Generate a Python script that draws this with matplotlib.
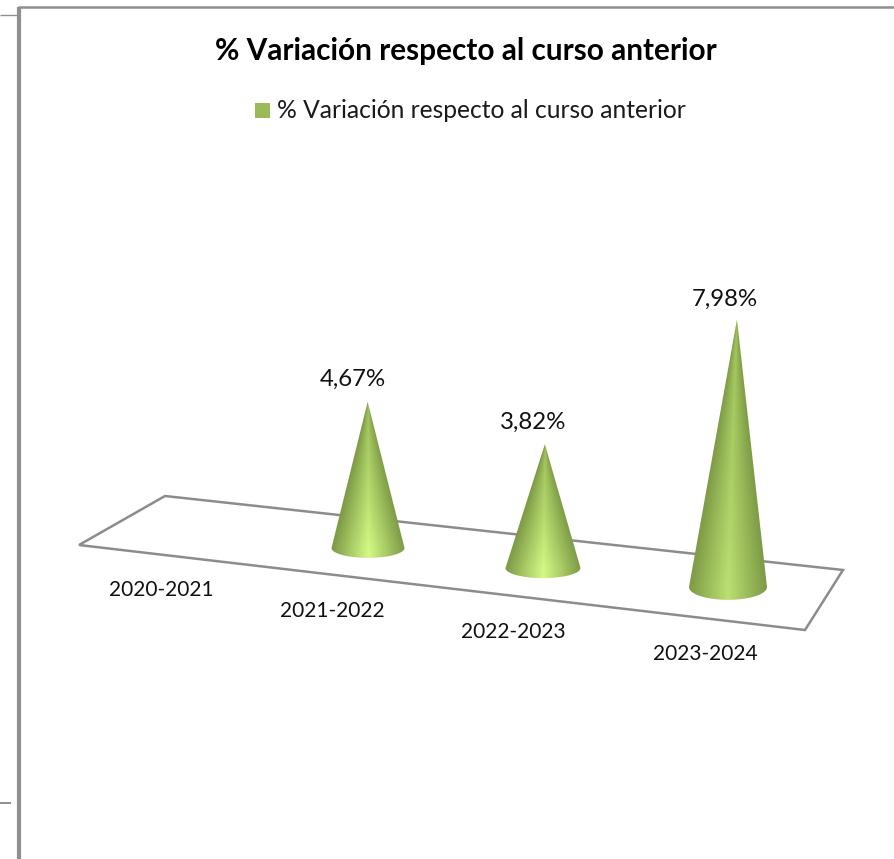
import matplotlib
matplotlib.use("Agg")
import matplotlib.pyplot as plt
import numpy as np
from matplotlib.colors import to_rgb
from matplotlib.patches import Path, PathPatch, Polygon, Rectangle

plt.rcParams["font.family"] = ["Lato", "DejaVu Sans"]

title = "% Variación respecto al curso anterior"
courses = ["2020-2021", "2021-2022", "2022-2023", "2023-2024"]
variation = [0.0, 4.67, 3.82, 7.98]
value_labels = ["", "4,67%", "3,82%", "7,98%"]

# the picture is a fake 3d one, so work in pixels
W, H = 894, 859
floor = [(165, 496), (843, 570), (805, 630), (79, 545)]
base_x = [193, 368, 543, 728]
base_y = [526, 548, 568, 587]
radius = [36, 36.5, 37.5, 39]
squash = [0.27, 0.27, 0.27, 0.33]
px_per_unit = [30.2, 31.3, 32.4, 33.5]
glow = [1, 1, 1, 0.5]
label_offset = [(0, 0), (-15, -22), (-12, -22), (-12, -20)]
course_pos = [(161, 590), (332, 611), (513, 632), (705, 654)]

dark = np.array(to_rgb("#7d9a45"))
mid = np.array(to_rgb("#a3c65f"))
light = np.array(to_rgb("#d4f985"))

fig = plt.figure(figsize=(W / 100, H / 100), dpi=100)
ax = fig.add_axes([0, 0, 1, 1])
ax.axis("off")

# frame pieces left over from the page
grey = "#8f8f8f"
ax.plot([18.8, 18.8], [7, H], color=grey, lw=3.0, solid_capstyle="butt")
ax.plot([18, W], [7, 7], color=grey, lw=1.8, solid_capstyle="butt")
ax.plot([0, 17], [15, 15], color=grey, lw=1.0, solid_capstyle="butt")
ax.plot([0, 11], [803, 803], color=grey, lw=1.4, solid_capstyle="butt")

ax.text(466, 51, title, ha="center", va="center", fontsize=21.4, fontweight="bold", color="black")
ax.add_patch(Rectangle((255, 103), 15, 15, fc="#9bbb59", ec="none"))
ax.text(277, 111, title, ha="left", va="center", fontsize=17.7, color="#1a1a1a")

ax.add_patch(Polygon(floor, closed=True, fc="white", ec="#8c8c8c", lw=1.8, joinstyle="miter"))


def draw_cone(cx, cy, r, ry, height, g):
    lean = (cx - 390) * height * 9.9e-5
    top = cy - height
    tip = cx + lean
    # outline: tip, down one side, round the front of the base, back up
    a = np.linspace(np.pi, 0, 40)
    xs = np.concatenate([[tip], cx + r * np.cos(a), [tip]])
    ys = np.concatenate([[top], cy + ry * np.sin(a), [top]])
    clip = PathPatch(Path(np.column_stack([xs, ys])), fc="none", ec="none", transform=ax.transData)
    ax.add_patch(clip)

    x0, x1 = cx - r - 2, max(cx + r, tip) + 2
    y0, y1 = top - 1, cy + ry + 2
    gx, gy = np.meshgrid(np.linspace(x0, x1, 200), np.linspace(y0, y1, 500))
    f = np.clip((gy - top) / height, 0.001, 1)
    axis = cx + lean * (1 - f)
    t = np.clip(np.abs(gx - axis) / (r * f), 0, 1)
    # brightest line runs down the middle and gets stronger towards the base
    k = (g * f ** 1.6)[..., None]
    centre = mid * (1 - k) + light * k
    s = (t ** 1.0)[..., None]
    img = centre * (1 - s) + dark * s
    im = ax.imshow(img, extent=[x0, x1, y1, y0], aspect="auto", interpolation="bilinear", zorder=3)
    im.set_clip_path(clip)
    return tip, top


for i, v in enumerate(variation):
    if v > 0:
        tip, top = draw_cone(base_x[i], base_y[i], radius[i], radius[i] * squash[i], v * px_per_unit[i], glow[i])
        ax.text(tip + label_offset[i][0], top + label_offset[i][1], value_labels[i],
                ha="center", va="center", fontsize=17.3, color="#111111")
    ax.text(course_pos[i][0], course_pos[i][1], courses[i], ha="center", va="center", fontsize=15.0, color="#111111")

ax.set_xlim(0, W)
ax.set_ylim(H, 0)
fig.savefig("out.png", dpi=100)
